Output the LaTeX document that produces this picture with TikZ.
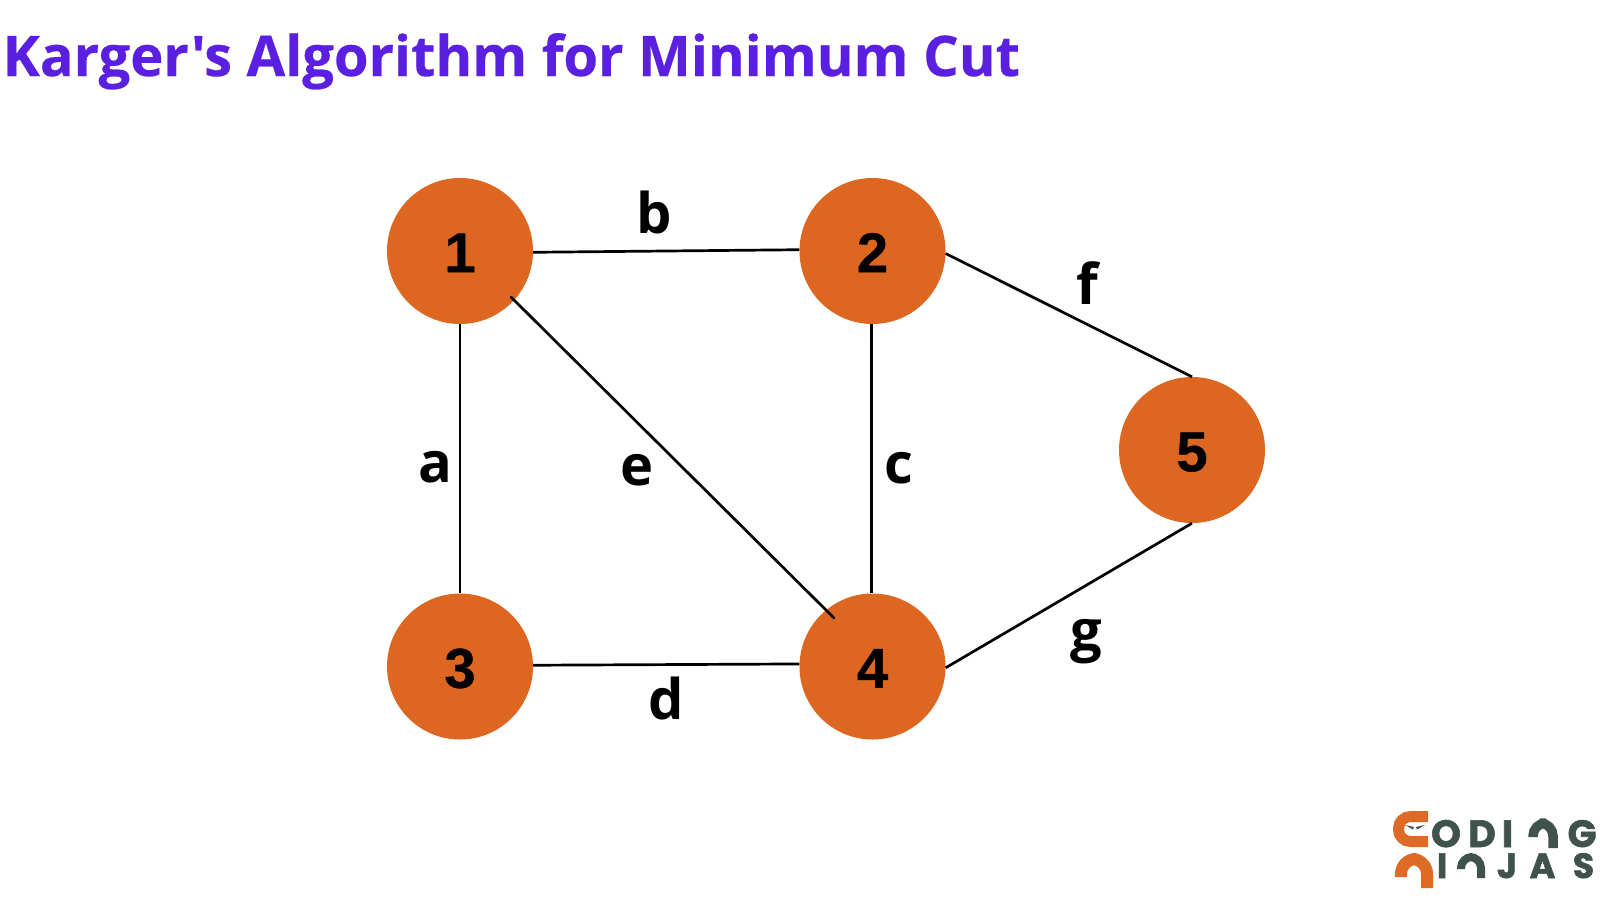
\documentclass[tikz,border=0pt]{standalone}
\usepackage{fontspec}
\setmainfont{Open Sans}
\newfontfamily\titlefont{Open Sans}[Ligatures=TeXOff,BoldFeatures={FakeBold=0.4}]
\newfontfamily\logofont{Poppins}[BoldFont={Poppins Bold},BoldFeatures={FakeBold=1.5}]
\newfontfamily\digitfont{Liberation Sans}[BoldFeatures={FakeBold=0.8}]
\definecolor{titlec}{HTML}{5A1FE0}
\definecolor{nodec}{HTML}{DD6620}
\definecolor{logoo}{HTML}{DD6B26}
\definecolor{logog}{HTML}{3F524C}
\newcommand{\dgt}[1]{\raisebox{-1.2pt}[40pt][0pt]{#1}}
\tikzset{
  gnode/.style={circle,fill=nodec,minimum size=146pt,inner sep=0pt,font=\digitfont\fontsize{56}{56}\selectfont\bfseries,text=black},
  elabel/.style={font=\fontsize{56}{56}\selectfont\bfseries,text=black,inner sep=0pt,anchor=base},
  edge/.style={draw=black,line width=2.7pt},
  logol/.style={font=\logofont\fontsize{38}{38}\selectfont\bfseries,text=logog,inner sep=0pt,anchor=base,text height=26pt,text depth=0pt},
  logom/.style={font=\logofont\fontsize{35}{35}\selectfont\bfseries,text=logog,inner sep=0pt,anchor=base,text height=24pt,text depth=0pt}
}
\begin{document}
\begin{tikzpicture}[x=1pt,y=-1pt]
\useasboundingbox (0,0) rectangle (1600,900);
\fill[white] (0,0) rectangle (1600,900);
\node[anchor=base west,inner sep=0pt,text=titlec,font=\titlefont\fontsize{56}{56}\selectfont\bfseries] (title) at (2.5,76) {Karger's Algorithm for Minimum Cut};
\node[gnode] (n1) at (460,251) {\dgt{1}};
\node[gnode] (n2) at (872.5,251) {\dgt{2}};
\node[gnode] (n3) at (460,666.5) {\dgt{3}};
\node[gnode] (n4) at (872.5,666.5) {\dgt{4}};
\node[gnode] (n5) at (1192,450) {\dgt{5}};
\coordinate (e1) at (511,297);
\coordinate (e4) at (834,618);
\draw[edge] (n1.-1) -- (n2.179);
\draw[edge] (n3.1) -- (n4.178);
\draw[edge] (n1.south) -- (n3.north);
\draw[edge] (n2.-91) -- (n4.91);
\draw[edge] (n2.-2) -- (n5.north);
\draw[edge] (n4.-1) -- (n5.south);
\draw[edge,line cap=round] (e1) -- (e4);
\node[elabel] (la) at (435,482) {a};
\node[elabel] (lb) at (654,233) {b};
\node[elabel] (lc) at (899,483) {c};
\node[elabel] (ld) at (666,719) {d};
\node[elabel] (le) at (637,485) {e};
\node[elabel] (lf) at (1087,304) {f};
\node[elabel] (lg) at (1086,650) {g};
% logo
\draw[logoo,line width=11pt,rounded corners=12pt] (1428,816.5) -- (1398.5,816.5) -- (1398.5,841.5) -- (1428,841.5);
\fill[logog] (1405,825) -- (1414,827) -- (1413,829.5) -- cycle;
\fill[logog] (1425,825) -- (1416,827) -- (1417,829.5) -- cycle;
\node[logol] (lO) at (1446,847) {O};
\node[logol] (lD) at (1482,847) {D};
\node[logol] (lI) at (1507.5,847) {I};
\draw[logog,line width=9.5pt,rounded corners=13pt] (1533,837) -- (1533,823) -- (1553,823) -- (1553,848);
\node[logol] (lG) at (1582,847) {G};
\draw[logoo,line width=12pt,rounded corners=15pt] (1401,877) -- (1401,859) -- (1427,859) -- (1427,888);
\node[logom] (lI2) at (1442,878) {I};
\draw[logog,line width=8pt,rounded corners=11pt] (1461,869) -- (1461,857) -- (1481,857) -- (1481,878);
\node[logom] (lJ) at (1507,878) {J};
\node[logom] (lA) at (1542.5,878) {A};
\node[logom] (lS) at (1583.5,878) {S};
\end{tikzpicture}
\end{document}
